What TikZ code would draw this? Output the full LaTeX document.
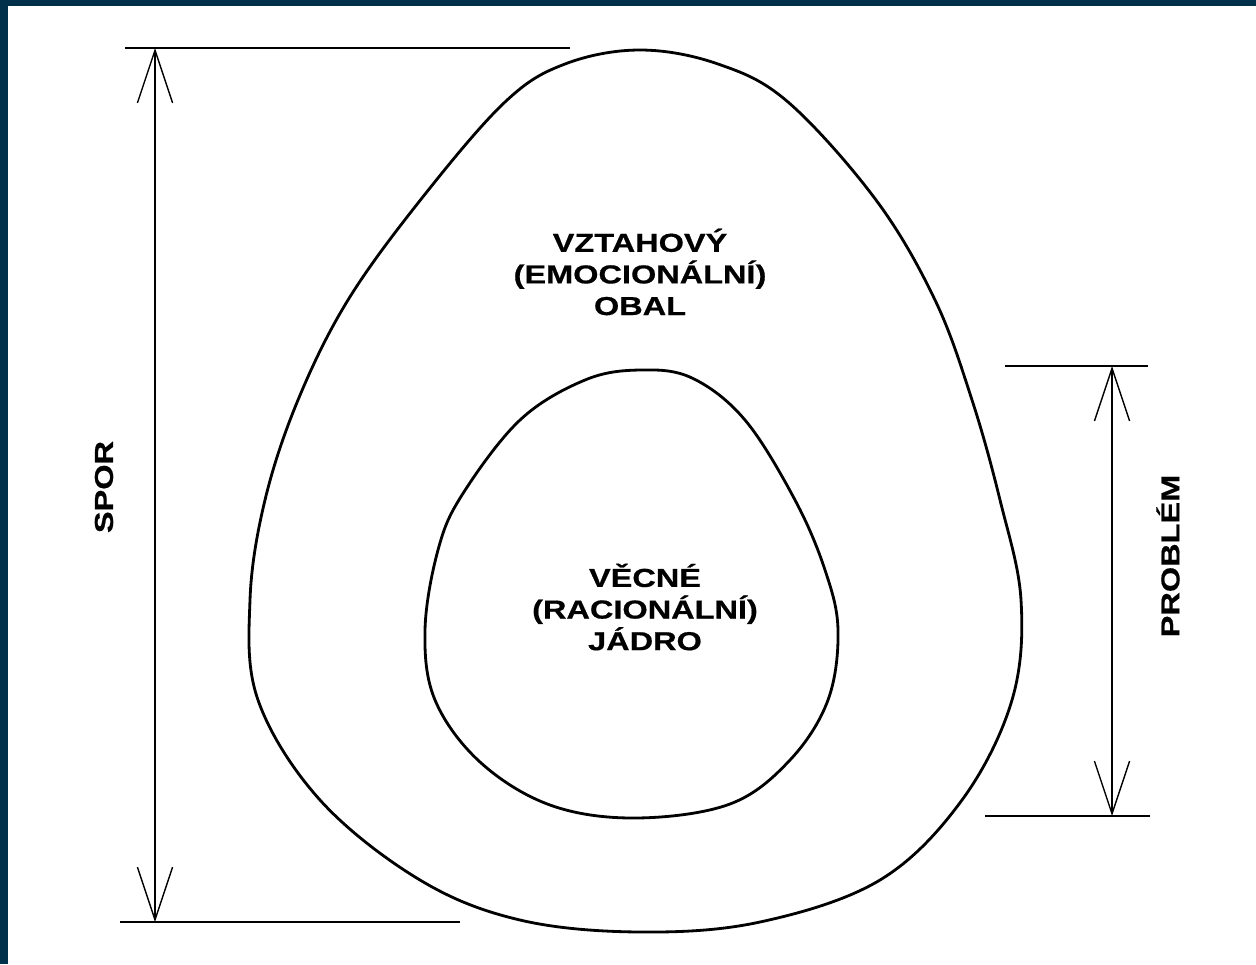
\documentclass[tikz,border=0pt]{standalone}
\usepackage{fontspec}
\setmainfont{Liberation Sans}
\newfontfamily\labelfont{Liberation Sans}[FakeStretch=1.25, FakeBold=0.6]
\usepackage{xcolor}
\usepackage{tikz}
\usetikzlibrary{arrows.meta,positioning,calc}
\definecolor{framecolor}{HTML}{00304A}

\begin{document}
\begin{tikzpicture}[
    x=0.02cm, y=-0.02cm,
    every node/.style={font=\labelfont\bfseries\fontsize{14.8}{18}\selectfont, align=center, inner sep=0pt},
    shell/.style={draw=black, line width=1.6pt, line join=round},
    dimline/.style={draw=black, line width=0.8pt},
    dimarrow/.style={dimline, {Straight Barb[length=30pt, width=20pt, line width=0.8pt]}-{Straight Barb[length=30pt, width=20pt, line width=0.8pt]}}
]
    % Canvas and frame
    \useasboundingbox (0,0) rectangle (1256,964);
    \fill[white] (0,0) rectangle (1256,964);
    \fill[framecolor] (0,0) rectangle (8,964);
    \fill[framecolor] (0,0) rectangle (1256,6);

    % Outer shell
    \draw[shell] plot[smooth cycle, tension=0.6] coordinates {
        (250,600) (265,500) (298,400) (348,300) (422,198) (505,102)
        (565,64) (640,50) (718,64) (788,102) (876,200) (935,300)
        (972,400) (1000,500) (1021,600) (1012,700) (962,800) (880,880)
        (760,922) (640,932) (520,920) (420,880) (320,800) (258,700)};

    % Inner core
    \draw[shell] plot[smooth cycle, tension=0.6] coordinates {
        (640,370) (692,378) (745,420) (795,500) (825,570) (838,630) (828,700)
        (790,760) (730,804) (635,818) (550,805) (480,762) (435,700) (425,630)
        (438,550) (462,495) (520,420) (585,380)};

    % Labels
    \node (obal) at (640,272) {VZTAHOVÝ\\(EMOCIONÁLNÍ)\\OBAL};
    \node (jadro) at (645,607) {VĚCNÉ\\(RACIONÁLNÍ)\\JÁDRO};
    \node[rotate=90] (spor) at (104,487) {SPOR};
    \node[rotate=90] (problem) at (1168,556) {PROBLÉM};

    % Dimension for SPOR
    \coordinate (sporA) at (125,48);
    \coordinate (sporB) at (570,48);
    \coordinate (sporC) at (120,922);
    \coordinate (sporD) at (460,922);
    \coordinate (sporTop) at (155,48);
    \coordinate (sporBot) at (155,922);
    \draw[dimline] (sporA) -- (sporB);
    \draw[dimline] (sporC) -- (sporD);
    \draw[dimarrow] (sporTop) -- (sporBot);

    % Dimension for PROBLEM
    \coordinate (probA) at (1005,366);
    \coordinate (probB) at (1148,366);
    \coordinate (probC) at (985,816);
    \coordinate (probD) at (1150,816);
    \coordinate (probTop) at (1112,366);
    \coordinate (probBot) at (1112,816);
    \draw[dimline] (probA) -- (probB);
    \draw[dimline] (probC) -- (probD);
    \draw[dimarrow] (probTop) -- (probBot);
\end{tikzpicture}
\end{document}
